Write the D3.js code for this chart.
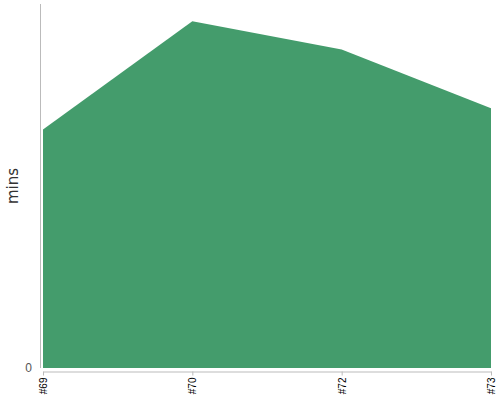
<!DOCTYPE html>
<html>
<head>
<meta charset="utf-8">
<script src="https://cdn.jsdelivr.net/npm/d3@7"></script>
<style>
  body { margin: 0; background: #fff; }
  svg { display: block; font-family: "DejaVu Sans", sans-serif; }
</style>
</head>
<body>
<div id="chart"></div>
<script>
  // Build labels and minutes per build
  const builds = ['#69', '#70', '#72', '#73'];
  const minutes = [68.8, 100, 91.9, 74.9];
  const yTicks = [0];

  const width = 500;
  const height = 400;
  const margin = { top: 4, right: 9, bottom: 32, left: 43 };

  const svg = d3.select('#chart')
    .append('svg')
    .attr('width', width)
    .attr('height', height);

  const x = d3.scalePoint()
    .domain(builds)
    .range([margin.left, width - margin.right]);

  const y = d3.scaleLinear()
    .domain([0, d3.max(minutes) * 1.05])
    .range([height - margin.bottom, margin.top]);

  const data = builds.map((b, i) => ({ build: b, value: minutes[i] }));

  // Area
  const area = d3.area()
    .x(d => x(d.build))
    .y0(y(0))
    .y1(d => y(d.value));

  svg.append('path')
    .datum(data)
    .attr('d', area)
    .attr('fill', '#449c6c');

  // Y axis
  const yAxis = svg.append('g')
    .attr('transform', `translate(${margin.left - 3},0)`)
    .call(d3.axisLeft(y).tickValues(yTicks).tickSize(0).tickPadding(8).tickFormat(d3.format('d')));

  yAxis.select('.domain')
    .attr('stroke', '#bbb')
    .attr('d', `M0.5,${margin.top}V${y(0)}`);

  yAxis.selectAll('text')
    .style('font-size', '12px')
    .style('fill', '#555');

  // X axis
  const xAxis = svg.append('g')
    .attr('transform', `translate(0,${y(0) + 3.5})`)
    .call(d3.axisBottom(x).tickSize(4).tickSizeOuter(0));

  xAxis.select('.domain').attr('stroke', '#bbb');
  xAxis.selectAll('.tick line').attr('stroke', '#bbb');

  xAxis.selectAll('text')
    .style('font-size', '10px')
    .style('fill', '#000')
    .attr('text-anchor', 'end')
    .attr('transform', 'rotate(-90)')
    .attr('x', -6)
    .attr('y', 0)
    .attr('dy', '0.35em');

  // Y label
  svg.append('text')
    .attr('transform', 'translate(18,186) rotate(-90)')
    .attr('text-anchor', 'middle')
    .style('font-size', '15px')
    .style('fill', '#333')
    .text('mins');
</script>
</body>
</html>
